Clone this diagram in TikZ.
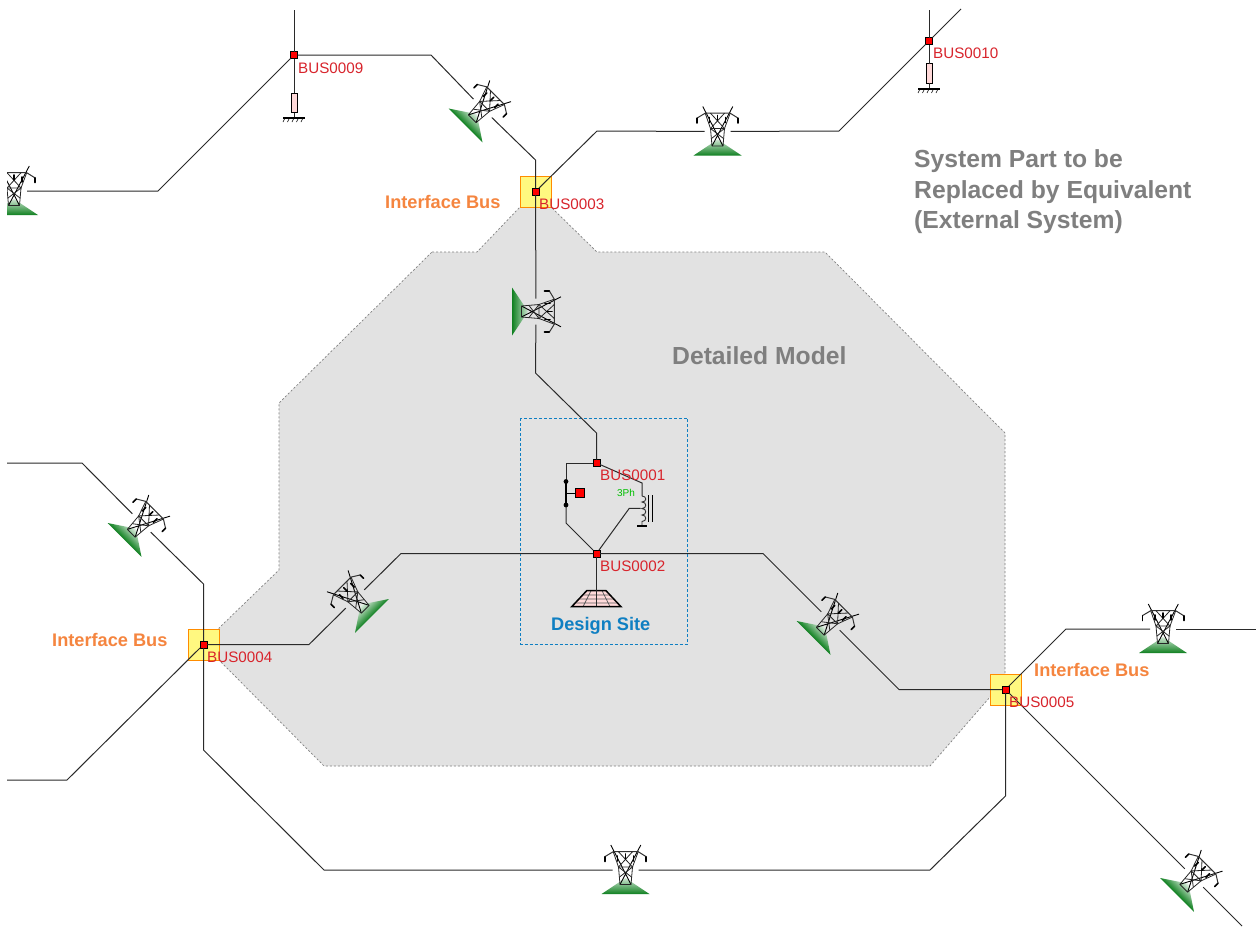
\documentclass[tikz,border=0pt]{standalone}
\usepackage{fontspec}
\setmainfont{Liberation Sans}
\definecolor{busred}{HTML}{D8242C}
\definecolor{ifaceor}{HTML}{F5853F}
\definecolor{sitebl}{HTML}{0F7FC2}
\definecolor{greytxt}{HTML}{7F7F7F}
\definecolor{areagrey}{HTML}{E2E2E2}
\definecolor{wire}{HTML}{2A2A2A}
\definecolor{towergreen}{HTML}{0F8020}
\pgfdeclareverticalshading{towerflat}{100bp}{color(0bp)=(towergreen); color(25bp)=(towergreen); color(88bp)=(white); color(100bp)=(white)}
\pgfdeclareverticalshading{towerdiag}{100bp}{color(0bp)=(towergreen); color(50bp)=(towergreen); color(76bp)=(white); color(100bp)=(white)}
\tikzset{
  wirestyle/.style={draw=wire,line width=1pt,line join=miter},
  busnode/.style={draw=black,line width=0.8pt,fill=red,minimum size=7pt,inner sep=0pt,outer sep=0pt},
  buslabel/.style={text=busred,font=\fontsize{15.2}{15.2}\selectfont,anchor=west,inner sep=0pt},
  ifacebox/.style={draw=orange!90!yellow,line width=1pt,fill=yellow!50!white,minimum size=31pt,inner sep=0pt},
  ifacelabel/.style={text=ifaceor,font=\fontsize{18.2}{18.2}\selectfont\bfseries,anchor=west,inner sep=0pt},
  biglabel/.style={text=greytxt,font=\fontsize{24.7}{30.5}\selectfont\bfseries,anchor=west,inner sep=0pt,align=left},
  towerhole/.style={circle,minimum size=26pt,inner sep=0pt,outer sep=0pt},
  resnode/.style={draw=black,line width=0.9pt,fill=red!15,minimum width=6pt,minimum height=19.5pt,inner sep=0pt,outer sep=0pt},
  tower/.pic={
    \shade[shading=#1] (-24,24) -- (24,24) -- (0,8) -- cycle;
    \draw[line width=0.9pt,black] (-14.7,-25) -- (5.5,14.5) (15.3,-25) -- (-5.5,14.5);
    \draw[line width=1pt,black!80] (-20.7,-13.3) -- (-12.3,-18.3) -- (12.7,-18.3) -- (20.7,-13.3);
    \draw[line width=0.8pt,black!85] (-7,-18.3) -- (7,-3) (7,-18.3) -- (-7,-3);
    \draw[line width=0.8pt,black!85] (-12.3,-18.3) -- (-7,-3) (12.7,-18.3) -- (7,-3);
    \draw[line width=0.8pt,black!85] (-7.5,-3) -- (7.5,-3) (-5.5,14.5) -- (5.5,14.5) (-7,-3) -- (-5.5,14.5) (7,-3) -- (5.5,14.5);
    \draw[line width=0.8pt,black!85] (-7,-3) -- (6,7) (7,-3) -- (-6,7);
    \draw[line width=1.6pt,black,line cap=round] (-20.7,-13.3) -- (-20.7,-8.5) (20.7,-13.3) -- (20.7,-8.5) (-8,-14) -- (-8,-9) (8,-14) -- (8,-9) (0,-16) -- (0,-11);
  }
}
\newcommand{\towerat}[4]{%
  \node[towerhole] (#1) at (#2) {};
  \pic[rotate=#3] at (#2) {tower={#4}};}
\newcommand{\groundhatch}[2]{%
  \draw[line width=1.8pt,black] (#1-11,#2) -- (#1+11,#2);
  \foreach \k in {-9,-4.5,0,4.5,9} \draw[line width=0.6pt,black] (#1+\k,#2) -- (#1+\k-2,#2+4);}
\begin{document}
\begin{tikzpicture}[x=1pt,y=-1pt]
\useasboundingbox (0,0) rectangle (1259,935);
\fill[white] (0,0) rectangle (1259,935);
\begin{scope}
\clip (7,0) rectangle (1256,935);
% study area
\draw[draw=gray,dash pattern=on 2pt off 2pt,line width=0.7pt,fill=areagrey]
  (432,252) -- (477,252) -- (520,207) -- (551,207) -- (597,252) -- (825,252) -- (1005,433)
  -- (1005,674) -- (990,697) -- (930,766) -- (324,766) -- (219,660) -- (219,628) -- (279,570) -- (279,403) -- cycle;
\draw[draw=sitebl,densely dashed,line width=0.6pt] (520.5,418) rectangle (687.5,644);
% interface squares
\node[ifacebox] (if3) at (535.5,191.5) {};
\node[ifacebox] (if4) at (203.5,644.5) {};
\node[ifacebox] (if5) at (1005.5,689.5) {};
% buses
\node[busnode] (bus9) at (294,55) {};
\node[busnode] (bus10) at (929,41) {};
\node[busnode] (bus3) at (535.5,191.5) {};
\node[busnode] (bus1) at (596.5,463) {};
\node[busnode] (bus2) at (596.5,553.5) {};
\node[busnode] (bus4) at (203.5,644.5) {};
\node[busnode] (bus5) at (1005.5,689.5) {};
% towers
\towerat{tleft}{14,191}{0}{towerflat}
\towerat{tne}{717.5,131.5}{0}{towerflat}
\towerat{tsouth}{625.5,870}{0}{towerflat}
\towerat{tse}{1163,629}{0}{towerflat}
\begin{scope}[shading angle=-90]
\towerat{tmid}{536,311.5}{-90}{towerflat}
\end{scope}
\begin{scope}[shading angle=-45]
\towerat{tnw}{482.5,108.5}{-45}{towerdiag}
\towerat{twa}{141.5,523}{-45}{towerdiag}
\towerat{tea}{830.5,621}{-45}{towerdiag}
\towerat{tfar}{1194,878}{-45}{towerdiag}
\end{scope}
\begin{scope}[shading angle=45]
\towerat{twb}{355,599}{45}{towerdiag}
\end{scope}
% free ends
\coordinate (e9) at (294,10);
\coordinate (e10) at (929,10);
\coordinate (e10b) at (961,9);
\coordinate (ew1) at (7,463);
\coordinate (ew2) at (7,780);
\coordinate (ee1) at (1256,629);
\coordinate (ee2) at (1242,926);
% wires
\draw[wirestyle] (e9) -- (bus9);
\draw[wirestyle] (bus9) -- (158,191) -- (tleft);
\draw[wirestyle] (bus9) -- (431,55) -- (tnw);
\draw[wirestyle] (tnw) -- (535.5,160) -- (bus3);
\draw[wirestyle] (bus3) -- (597,131) -- (tne);
\draw[wirestyle] (tne) -- (839,131) -- (bus10);
\draw[wirestyle] (bus10) -- (e10b);
\draw[wirestyle] (e10) -- (bus10);
\draw[wirestyle] (bus3) -- (tmid);
\draw[wirestyle] (tmid) -- (535.5,373) -- (596.5,433) -- (bus1);
\draw[wirestyle] (bus2) -- (401,553.5) -- (twb);
\draw[wirestyle] (twb) -- (309,644.5) -- (bus4);
\draw[wirestyle] (bus2) -- (763,553.5) -- (tea);
\draw[wirestyle] (tea) -- (899,689.5) -- (bus5);
\draw[wirestyle] (ew1) -- (82,463) -- (twa);
\draw[wirestyle] (twa) -- (203.5,584) -- (bus4);
\draw[wirestyle] (ew2) -- (67,780) -- (bus4);
\draw[wirestyle] (bus4) -- (203.5,750) -- (324,870) -- (tsouth);
\draw[wirestyle] (tsouth) -- (930,870) -- (1005.5,796) -- (bus5);
\draw[wirestyle] (bus5) -- (1066,629) -- (tse);
\draw[wirestyle] (tse) -- (ee1);
\draw[wirestyle] (bus5) -- (tfar);
\draw[wirestyle] (tfar) -- (ee2);
% shunt resistors and grounds
\node[resnode] (res9) at (294,103) {};
\coordinate (g9) at (294,118);
\draw[wirestyle] (bus9) -- (res9);
\draw[wirestyle] (res9) -- (g9);
\groundhatch{294}{118}
\node[resnode] (res10) at (929,73.5) {};
\coordinate (g10) at (929,89);
\draw[wirestyle] (bus10) -- (res10);
\draw[wirestyle] (res10) -- (g10);
\groundhatch{929}{89}
% design site equipment
\coordinate (brk1) at (566,481.5);
\coordinate (brk2) at (566,505);
\node[draw=black,line width=0.8pt,fill=red,minimum size=9.5pt,inner sep=0pt] (gen) at (580,493) {};
\draw[wirestyle] (bus1) -- (566,463) -- (brk1);
\draw[wirestyle] (brk2) -- (566,523) -- (bus2);
\draw[line width=1.6pt,black] (brk1) -- (brk2);
\fill[black] (brk1) circle (2.4) (brk2) circle (2.4);
\draw[line width=1pt,black] (566,493) -- (gen);
\draw[wirestyle] (bus1) -- (642,483) -- (642,496);
\draw[wirestyle] (bus2) -- (629.3,508.3) -- (640.5,508.3);
\draw[line width=0.9pt,black!80] (642,496)
  .. controls (647,496) and (647,502) .. (642,502)
  .. controls (647,502) and (647,508.5) .. (642,508.5)
  .. controls (647,508.5) and (647,515) .. (642,515)
  .. controls (647,515) and (647,521.5) .. (642,521.5) -- (642,526);
\draw[line width=1.6pt,black] (637,526) -- (647,526);
\draw[line width=1.3pt,black] (648.3,495) -- (648.3,521.7) (652.3,495) -- (652.3,521.7);
\node[text=green!75!black,font=\fontsize{10}{10}\selectfont,inner sep=0pt] (ph) at (626,493) {3Ph};
% load
\coordinate (sitetop) at (596.5,606);
\fill[red!15] (571.7,606.7) -- (621,606.7) -- (606,590.7) -- (586.7,590.7) -- cycle;
\draw[line width=0.7pt,black!65] (579,599) -- (614,599) (575.5,603) -- (617.5,603) (583,595) -- (610,595)
  (591,590.7) -- (583,606.7) (602,590.7) -- (610,606.7);
\draw[line width=1.5pt,black] (571.7,606.7) -- (621,606.7) -- (606,590.7) -- (586.7,590.7) -- cycle;
\draw[wirestyle] (bus2) -- (sitetop);
\end{scope}
% labels
\node[buslabel] (l9) at (298,68) {BUS0009};
\node[buslabel] (l10) at (933,53) {BUS0010};
\node[buslabel] (l3) at (539,204) {BUS0003};
\node[buslabel] (l1) at (600,475) {BUS0001};
\node[buslabel] (l2) at (600,566) {BUS0002};
\node[buslabel] (l4) at (207,657) {BUS0004};
\node[buslabel] (l5) at (1009,702) {BUS0005};
\node[ifacelabel] (i3) at (385,202) {Interface Bus};
\node[ifacelabel] (i4) at (52,640) {Interface Bus};
\node[ifacelabel] (i5) at (1034,670) {Interface Bus};
\node[ifacelabel,text=sitebl] (ds) at (551,626) {Design Site};
\node[biglabel] (dm) at (672,356) {Detailed Model};
\node[biglabel] (ext) at (914,192) {System Part to be\\Replaced by Equivalent\\(External System)};
\end{tikzpicture}
\end{document}
